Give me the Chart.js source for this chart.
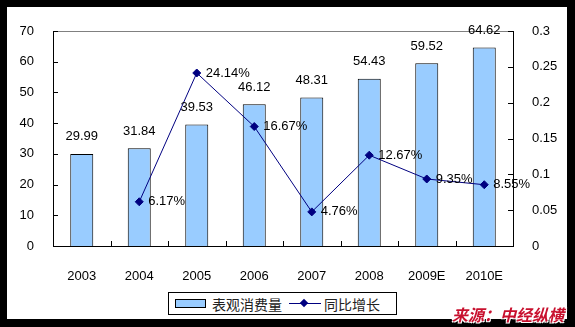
<!DOCTYPE html>
<html>
<head>
<meta charset="utf-8">
<script src="https://cdn.jsdelivr.net/npm/chart.js@4"></script>
<style>
  html, body { margin: 0; padding: 0; background: #000; }
  body { width: 575px; height: 327px; position: relative; overflow: hidden; }
  #frame { position: absolute; left: 7px; top: 7px; width: 560px; height: 312px; background: #fff; }
  #chart { position: absolute; left: 0; top: 0; }
  #legend {
    position: absolute; left: 161px; top: 285px; width: 227px; height: 21px;
    border: 1px solid #000; background: #fff;
    font: 14px "Noto Sans CJK SC", sans-serif; color: #222;
    display: flex; align-items: center; white-space: nowrap;
  }
  #legend .swatch { width: 29px; height: 7px; background: #99ccff; border: 1px solid #000; margin: 0 6px 0 6px; }
  #legend .lineKey { position: relative; width: 32px; height: 10px; margin: 0 3px 0 7px; }
  #legend .lineKey::before { content: ""; position: absolute; left: 0; right: 0; top: 4px; border-top: 1px solid #000080; }
  #legend .lineKey::after { content: ""; position: absolute; left: 12px; top: 1px; width: 6px; height: 6px; background: #000080; transform: rotate(45deg); }
  #source {
    position: absolute; left: 452px; top: 302px;
    font: italic bold 16px "Noto Sans CJK SC", sans-serif; color: #c8102e;
    text-shadow: 1px 1px 0 #fff, -1px -1px 0 #fff, 1px -1px 0 #fff, -1px 1px 0 #fff;
    letter-spacing: 0px;
  }
</style>
</head>
<body>
<div id="frame">
  <canvas id="chart" width="560" height="312"></canvas>
  <div id="legend">
    <span class="swatch"></span><span>表观消费量</span>
    <span class="lineKey"></span><span>同比增长</span>
  </div>
</div>
<div id="source">来源：中经纵横</div>

<script>
const years = ["2003", "2004", "2005", "2006", "2007", "2008", "2009E", "2010E"];
const consumption = [29.99, 31.84, 39.53, 46.12, 48.31, 54.43, 59.52, 64.62];
// year-on-year growth in percent, no value for the first year
const growthPct = [null, 6.17, 24.14, 16.67, 4.76, 12.67, 9.35, 8.55];
const leftTicks = [0, 10, 20, 30, 40, 50, 60, 70];
const rightTicks = [0, 0.05, 0.1, 0.15, 0.2, 0.25, 0.3];

const growth = growthPct.map((v) => (v === null ? null : v / 100));
const tickFont = { family: "Liberation Sans, Arial, sans-serif", size: 13 };

// Excel-style frame: inward tick marks, grey top edge, value labels
const axisDecor = {
  id: "axisDecor",
  afterDatasetsDraw(chart) {
    const { ctx, chartArea: a, scales } = chart;
    ctx.save();
    ctx.lineWidth = 1;
    ctx.strokeStyle = "#808080";
    ctx.beginPath();
    ctx.moveTo(a.left, a.top + 0.5);
    ctx.lineTo(a.right, a.top + 0.5);
    ctx.stroke();

    ctx.strokeStyle = "#000";
    ctx.beginPath();
    leftTicks.forEach((t) => {
      const y = Math.round(scales.y.getPixelForValue(t)) + 0.5;
      ctx.moveTo(a.left, y);
      ctx.lineTo(a.left + 5, y);
    });
    rightTicks.forEach((t) => {
      const y = Math.round(scales.y1.getPixelForValue(t)) + 0.5;
      ctx.moveTo(a.right, y);
      ctx.lineTo(a.right - 5, y);
    });
    const step = (a.right - a.left) / years.length;
    for (let i = 1; i < years.length; i++) {
      const x = Math.round(a.left + step * i) + 0.5;
      ctx.moveTo(x, a.bottom);
      ctx.lineTo(x, a.bottom - 5);
    }
    ctx.stroke();

    ctx.font = "13px Liberation Sans, Arial, sans-serif";
    ctx.fillStyle = "#000";
    ctx.textBaseline = "middle";
    ctx.textAlign = "center";
    chart.getDatasetMeta(0).data.forEach((bar, i) => {
      ctx.fillText(consumption[i].toFixed(2), bar.x, bar.y - 17);
    });
    ctx.textAlign = "left";
    chart.getDatasetMeta(1).data.forEach((pt, i) => {
      if (growthPct[i] === null) return;
      ctx.fillText(growthPct[i].toFixed(2) + "%", pt.x + 9, pt.y);
    });
    ctx.restore();
  },
};

new Chart(document.getElementById("chart"), {
  data: {
    labels: years,
    datasets: [
      {
        type: "bar",
        label: "表观消费量",
        data: consumption,
        yAxisID: "y",
        backgroundColor: "#99ccff",
        borderColor: "#000",
        borderWidth: 1,
        categoryPercentage: 1,
        barPercentage: 0.4,
        order: 2,
      },
      {
        type: "line",
        label: "同比增长",
        data: growth,
        yAxisID: "y1",
        borderColor: "#000080",
        borderWidth: 1,
        pointStyle: "rectRot",
        pointRadius: 4,
        pointBackgroundColor: "#000080",
        pointBorderColor: "#000080",
        tension: 0,
        order: 1,
      },
    ],
  },
  options: {
    responsive: false,
    animation: false,
    layout: { padding: { top: 24, left: 0, right: 0, bottom: 0 } },
    plugins: { legend: { display: false }, tooltip: { enabled: false } },
    scales: {
      x: {
        offset: true,
        grid: { display: false },
        border: { display: true, color: "#000" },
        ticks: { font: tickFont, color: "#000", padding: 15, maxRotation: 0 },
        afterFit: (s) => { s.height = 73; },
      },
      y: {
        position: "left",
        min: 0,
        max: 70,
        afterBuildTicks: (s) => { s.ticks = leftTicks.map((v) => ({ value: v })); },
        grid: { display: false },
        border: { display: true, color: "#000" },
        ticks: { font: tickFont, color: "#000", padding: 11 },
        afterFit: (s) => { s.width = 46; },
      },
      y1: {
        position: "right",
        min: 0,
        max: 0.3,
        afterBuildTicks: (s) => { s.ticks = rightTicks.map((v) => ({ value: v })); },
        grid: { display: false },
        border: { display: true, color: "#000" },
        ticks: { font: tickFont, color: "#000", padding: 11, callback: (v) => String(+v.toFixed(2)) },
        afterFit: (s) => { s.width = 54; },
      },
    },
  },
  plugins: [axisDecor],
});
</script>
</body>
</html>
